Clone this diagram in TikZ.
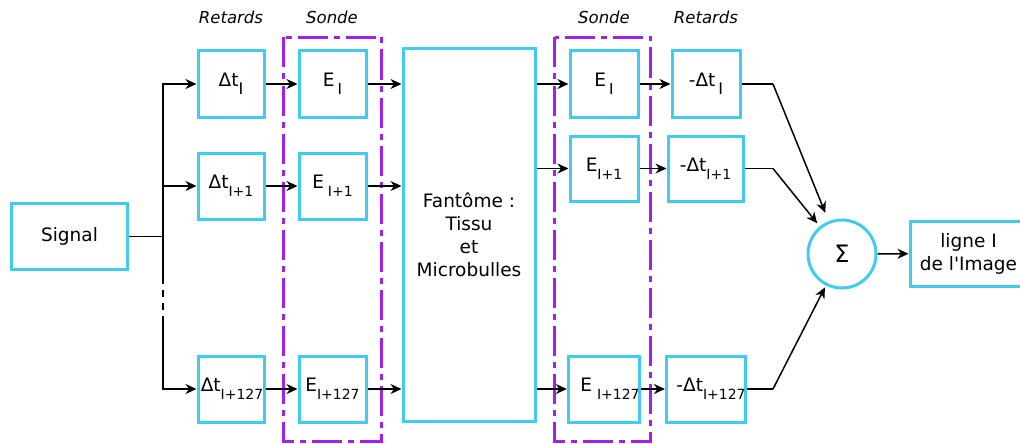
\documentclass[tikz,border=0pt]{standalone}
\usepackage{fontspec}
\setmainfont{DejaVu Sans}
\usetikzlibrary{arrows.meta}
\definecolor{cy}{HTML}{40CCEC}
\definecolor{pu}{HTML}{A020F0}
\newcommand{\sbb}[2][14]{\raisebox{-8pt}{\fontsize{#1}{#1}\selectfont #2}}
\begin{document}
\begin{tikzpicture}[x=1pt,y=-1pt,
  bx/.style={draw=cy, line width=3pt, inner sep=0pt, align=center, font=\fontsize{18.5}{23}\selectfont},
  lab/.style={font=\fontsize{16.5}{20}\selectfont\itshape},
  con/.style={line width=1.5pt, black},
  arr/.style={con, -{Stealth[length=11pt,width=10pt,inset=3.5pt]}},
  probe/.style={draw=pu, line width=3pt, dash pattern=on 30pt off 6pt on 6pt off 6pt}
]
\useasboundingbox (0,0) rectangle (1020,444);
% probe frames
\draw[probe] (283.5,37.5) rectangle (381.5,441.5);
\draw[probe] (554.5,37.5) rectangle (650.5,441.5);
% labels
\node[lab] (l1) at (231,17) {Retards};
\node[lab] (l2) at (332,17) {Sonde};
\node[lab] (l3) at (604,17) {Sonde};
\node[lab] (l4) at (706,17) {Retards};
% boxes
\node[bx, minimum width=116pt, minimum height=66pt] (sig) at (69.5,236.5) {Signal};
\node[bx, minimum width=66pt, minimum height=66pt] (d1) at (231,84) {Δt\sbb[16]{I}};
\node[bx, minimum width=66pt, minimum height=66pt] (d2) at (231,186) {Δt\sbb{I+1}};
\node[bx, minimum width=66pt, minimum height=66pt] (d3) at (231,389) {\hspace{2pt}Δt\sbb{I+127}};
\node[bx, minimum width=67pt, minimum height=66pt] (e1) at (332.5,84) {E\hspace{3pt}\sbb[15]{I}};
\node[bx, minimum width=67pt, minimum height=66pt] (e2) at (332.5,186) {E\hspace{4pt}\sbb{I+1}};
\node[bx, minimum width=67pt, minimum height=66pt] (e3) at (332.5,389) {E\sbb{I+127}};
\node[bx, minimum width=132pt, minimum height=372pt] (fant) at (469,235) {Fantôme :\\Tissu\\et\\Microbulles};
\node[bx, minimum width=68pt, minimum height=66pt] (r1) at (604,84) {E\hspace{3pt}\sbb[15]{I}};
\node[bx, minimum width=68pt, minimum height=65pt] (r2) at (604,168.5) {E\sbb{I+1}};
\node[bx, minimum width=68pt, minimum height=66pt] (r3) at (604,389) {\hspace{12pt}E\hspace{5pt}\sbb{I+127}};
\node[bx, minimum width=68pt, minimum height=66pt] (m1) at (706,84) {-Δt\hspace{3pt}\sbb[16]{I}};
\node[bx, minimum width=75pt, minimum height=65pt] (m2) at (705.5,168.5) {-Δt\sbb{I+1}};
\node[bx, minimum width=74pt, minimum height=66pt] (m3) at (706,389) {\hspace{10pt}-Δt\sbb{I+127}};
\node[bx, circle, minimum size=68pt, font=\fontsize{24}{24}\selectfont] (sum) at (842,254) {Σ};
\node[bx, minimum width=117pt, minimum height=65pt] (out) at (968.5,253.5) {ligne I\\de l\textquotesingle Image};
% coordinates
\coordinate (sp) at (163,236.5);
\coordinate (t1) at (163,277);
\coordinate (t2) at (163,321);
\coordinate (b1) at (773,84);
\coordinate (b2) at (773,168.5);
\coordinate (b3) at (773,389);
% connectors
\draw[con] (sig) -- (sp);
\draw[arr] (sp) |- (d1);
\draw[arr] (sp) |- (d2);
\draw[con] (sp) -- (t1);
\draw[con, dash pattern=on 7pt off 6pt] (t1) -- (t2);
\draw[arr] (t2) |- (d3);
\draw[arr] (d1) -- (e1);
\draw[arr] (d2) -- (e2);
\draw[arr] (d3) -- (e3);
\draw[arr] (e1) -- (fant.west |- e1);
\draw[arr] (e2) -- (fant.west |- e2);
\draw[arr] (e3) -- (fant.west |- e3);
\draw[arr] (fant.east |- r1) -- (r1);
\draw[arr] (fant.east |- r2) -- (r2);
\draw[arr] (fant.east |- r3) -- (r3);
\draw[arr] (r1) -- (m1);
\draw[arr] (r2) -- (m2);
\draw[arr] (r3) -- (m3);
\draw[con] (m1) -- (b1);
\draw[con] (m2) -- (b2);
\draw[con] (m3) -- (b3);
\draw[arr, shorten >=9pt] (b1) -- (sum);
\draw[arr, shorten >=4pt] (b2) -- (sum);
\draw[arr, shorten >=2pt] (b3) -- (sum);
\draw[arr] (sum) -- (out);
\end{tikzpicture}
\end{document}
